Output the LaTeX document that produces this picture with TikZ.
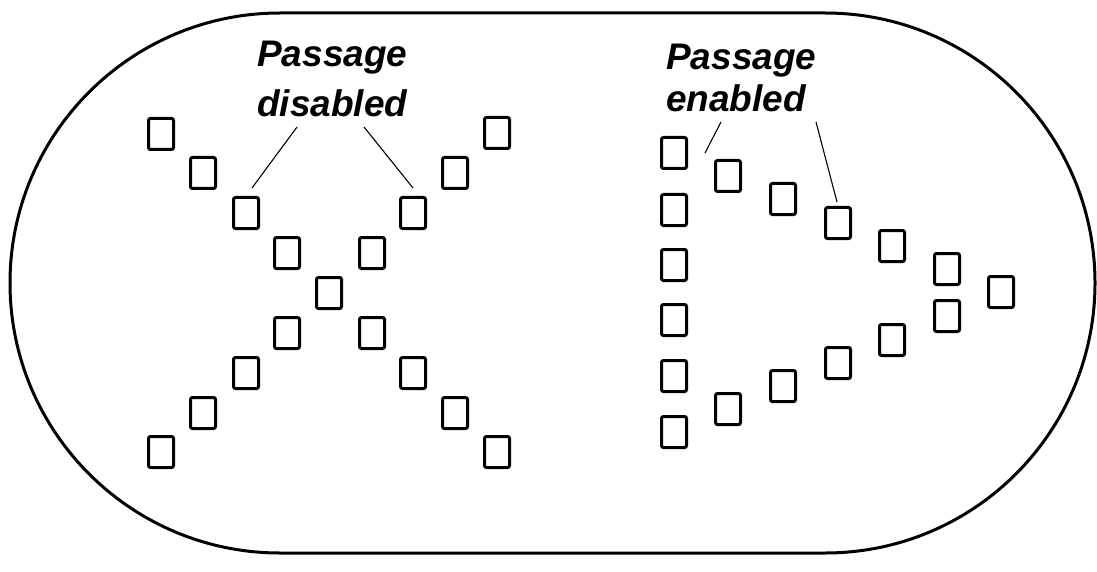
\documentclass[tikz,border=0pt]{standalone}
\usepackage{fontspec}
\setmainfont{Liberation Sans}
\begin{document}
\begin{tikzpicture}[x=1pt,y=-1pt,
  sq/.style={draw=black, line width=3pt, minimum width=25pt, minimum height=31pt, rounded corners=2pt, inner sep=0pt},
  lbl/.style={font=\fontsize{37}{41}\selectfont\bfseries\itshape, inner sep=0pt, anchor=base west},
  leader/.style={draw=black, line width=1.1pt}]
\useasboundingbox (0,0) rectangle (1097,572);
% outline
\draw[line width=3pt] (280,13) -- (825,13)
  arc[start angle=90, end angle=-90, x radius=270pt, y radius=270pt]
  -- (280,553)
  arc[start angle=270, end angle=90, x radius=270pt, y radius=270pt] -- cycle;
% X pattern
\node[sq] (x1) at (161,134) {};
\node[sq] (x2) at (203,173) {};
\node[sq] (x3) at (246,213) {};
\node[sq] (x4) at (287,253) {};
\node[sq] (x5) at (329,293) {};
\node[sq] (x6) at (287,333) {};
\node[sq] (x7) at (246,373) {};
\node[sq] (x8) at (203,413) {};
\node[sq] (x9) at (161,452) {};
\node[sq] (y1) at (497,133) {};
\node[sq] (y2) at (455,173) {};
\node[sq] (y3) at (413,213) {};
\node[sq] (y4) at (372,253) {};
\node[sq] (y6) at (372,333) {};
\node[sq] (y7) at (413,373) {};
\node[sq] (y8) at (455,413) {};
\node[sq] (y9) at (497,452) {};
% arrow pattern
\node[sq] (c1) at (674,153) {};
\node[sq] (c2) at (674,210) {};
\node[sq] (c3) at (674,265) {};
\node[sq] (c4) at (674,320) {};
\node[sq] (c5) at (674,376) {};
\node[sq] (c6) at (674,432) {};
\node[sq] (u1) at (728,176) {};
\node[sq] (u2) at (783,199) {};
\node[sq] (u3) at (838,223) {};
\node[sq] (u4) at (892,246) {};
\node[sq] (u5) at (947,269) {};
\node[sq] (tip) at (1001,292) {};
\node[sq] (l5) at (947,316) {};
\node[sq] (l4) at (892,340) {};
\node[sq] (l3) at (838,363) {};
\node[sq] (l2) at (783,386) {};
\node[sq] (l1) at (728,409) {};
% labels
\node[lbl] (pd1) at (257,67) {Passage};
\node[lbl] (pd2) at (257,117) {disabled};
\node[lbl] (pe1) at (666,70) {Passage};
\node[lbl] (pe2) at (666,112) {enabled};
% leaders
\coordinate (d1a) at (297,127); \coordinate (d1b) at (252,188);
\coordinate (d2a) at (364,127); \coordinate (d2b) at (413,188);
\coordinate (e1a) at (721,122); \coordinate (e1b) at (705,153);
\coordinate (e2a) at (816,122); \coordinate (e2b) at (837,202);
\draw[leader] (d1a) -- (d1b);
\draw[leader] (d2a) -- (d2b);
\draw[leader] (e1a) -- (e1b);
\draw[leader] (e2a) -- (e2b);
\end{tikzpicture}
\end{document}
